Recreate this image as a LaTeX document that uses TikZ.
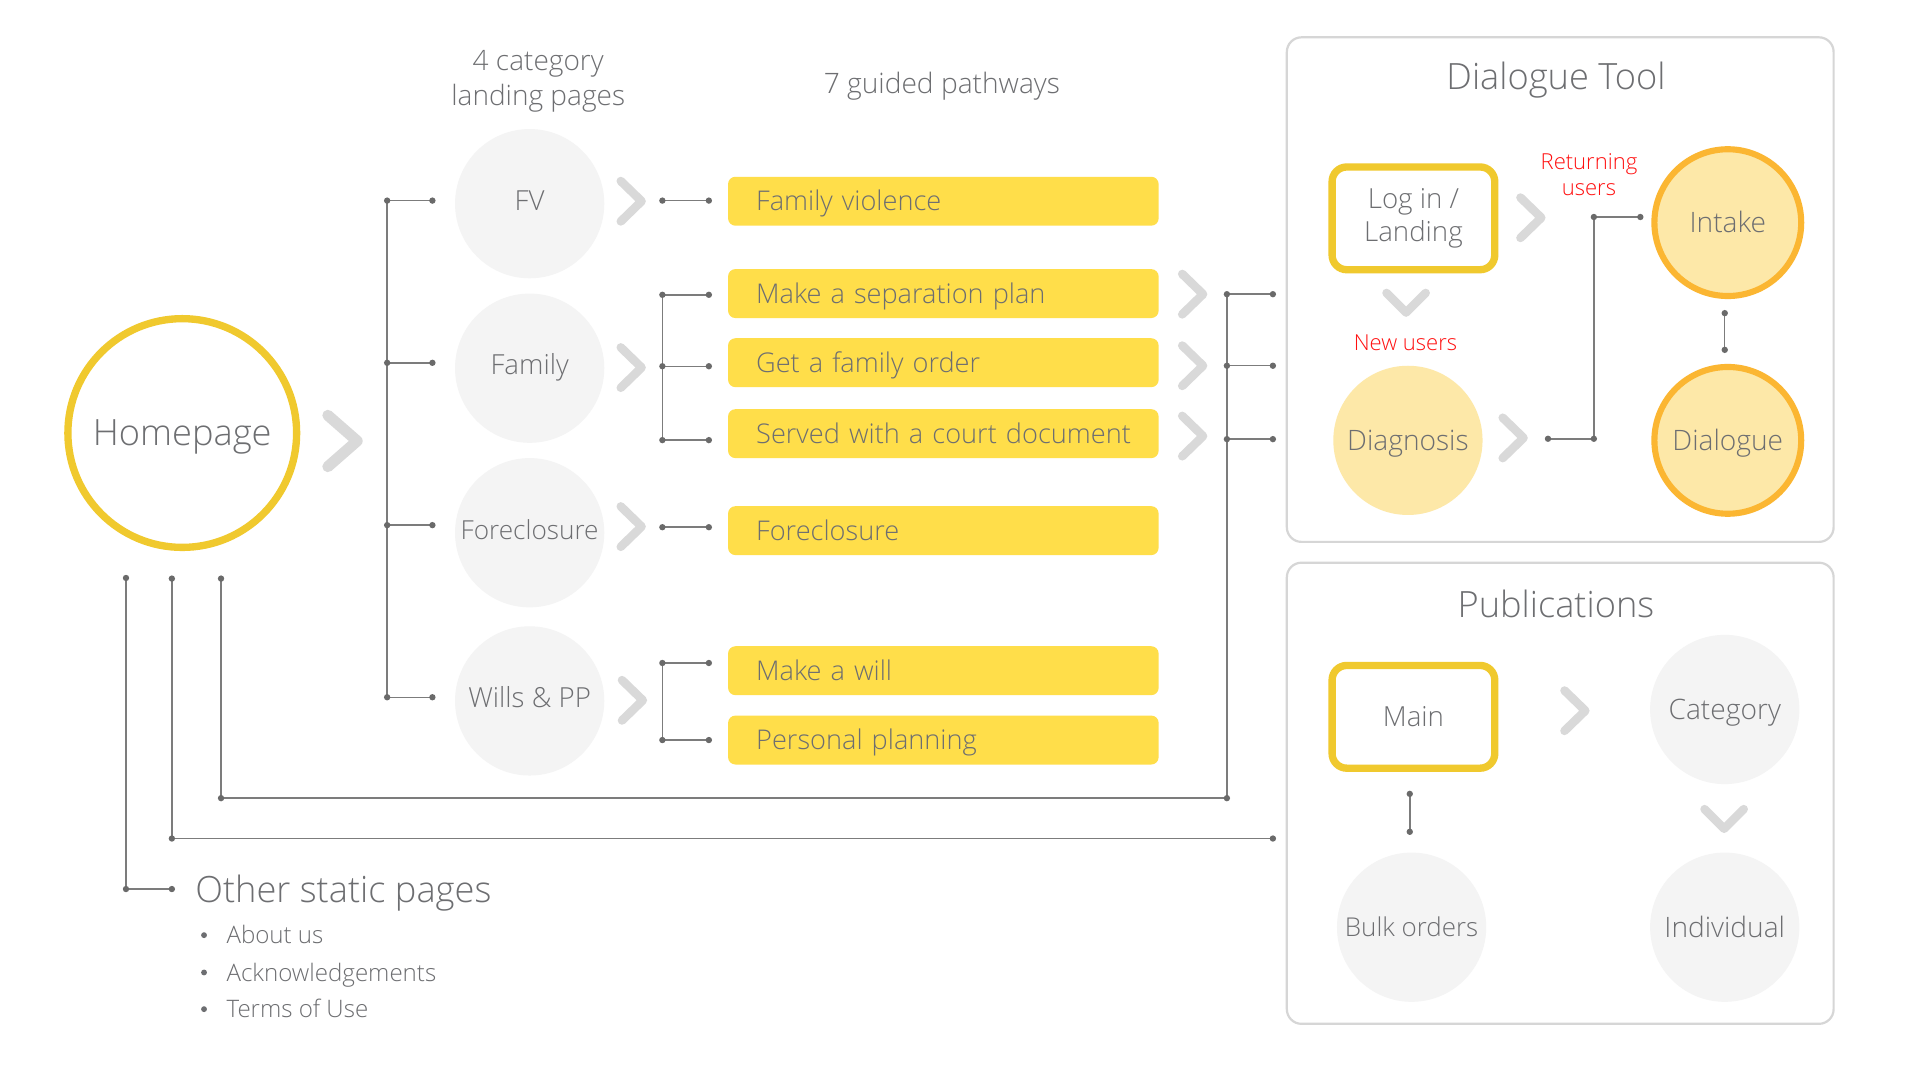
\documentclass[tikz,border=0pt]{standalone}
\usepackage{fontspec}
\setmainfont{Open Sans Light}
\usetikzlibrary{positioning}
\definecolor{txt}{HTML}{6D6E71}
\definecolor{linec}{HTML}{7C7C7C}
\definecolor{dotc}{HTML}{6A6A6A}
\definecolor{chevc}{HTML}{D9D9D9}
\definecolor{ylwline}{HTML}{F0C92E}
\definecolor{ylwfill}{HTML}{FFDE4A}
\definecolor{grayfill}{HTML}{F4F4F4}
\definecolor{lightylw}{HTML}{FDE8A8}
\definecolor{orangeline}{HTML}{FBB632}
\definecolor{panelline}{HTML}{D6D6D6}
\definecolor{redtxt}{HTML}{FF1010}
\begin{document}
\begin{tikzpicture}[x=1pt,y=-1pt,
  f18/.style={font=\fontsize{18}{22}\selectfont, text height=17.3pt, text depth=4.5pt},
  f19/.style={font=\fontsize{19.7}{23}\selectfont, text height=18.9pt, text depth=4.9pt},
  f21/.style={font=\fontsize{21.2}{25}\selectfont, text height=20.4pt, text depth=5.3pt},
  f22/.style={font=\fontsize{22.2}{27}\selectfont, text height=21.3pt, text depth=5.55pt},
  f23/.style={font=\fontsize{23}{27}\selectfont, text height=22.1pt, text depth=5.75pt},
  f29/.style={font=\fontsize{29.6}{35}\selectfont, text height=28.4pt, text depth=7.4pt},
  conn/.style={draw=linec, line width=1.2pt},
  chevline/.style={draw=chevc, line width=7pt, line cap=round, line join=round},
  chevR/.pic={\draw[chevline] (-8.5,-16.5) -- (8.5,0) -- (-8.5,16.5);},
  chevBig/.pic={\draw[chevline, line width=9pt] (-12,-21) -- (12,0) -- (-12,21);},
  chevD/.pic={\draw[chevline] (-16,-8) -- (0,8) -- (16,-8);},
  lbl/.style={text=txt, inner sep=0pt},
  hdr/.style={text=txt, f29, inner sep=0pt},
  sub/.style={text=txt, font=\fontsize{22.9}{28}\selectfont, inner sep=0pt, align=center},
  redlbl/.style={text=redtxt, font=\fontsize{18}{21}\selectfont, inner sep=0pt, align=center},
  catcircle/.style={circle, fill=grayfill, minimum size=122pt, inner sep=0pt, text=txt,
     font=\fontsize{22.6}{27}\selectfont, text height=21.7pt, text depth=10.6pt},
  pubcircle/.style={circle, fill=grayfill, minimum size=122pt, inner sep=0pt, text=txt, f23},
  pathbox/.style={rectangle, rounded corners=6pt, fill=ylwfill, minimum height=40pt, text width=306pt, inner xsep=23pt, inner ysep=0pt, align=left, anchor=west, text=txt, f22},
  ylwbox/.style={rectangle, rounded corners=12pt, draw=ylwline, line width=6pt, fill=white, minimum width=133pt, minimum height=84pt, inner sep=0pt, align=center, text=txt, font=\fontsize{22.6}{27}\selectfont},
  dtcircle/.style={circle, fill=lightylw, draw=orangeline, line width=5pt, minimum size=120pt, inner sep=0pt, text=txt, f23},
  panel/.style={draw=panelline, line width=1.8pt, rounded corners=12pt},
]
\useasboundingbox[fill=white] (0,0) rectangle (1568,881);

% headers
\node[sub] (h1) at (440,66.5) {4 category\\landing pages};
\node[sub, f23] (h2) at (770,68) {7 guided pathways};

% homepage
\node[circle, draw=ylwline, line width=6pt, minimum size=187pt, inner sep=0pt, text=txt, f29] (home) at (149,354) {Homepage};
\pic at (280,360.5) {chevBig};

% category circles
\node[catcircle] (fv) at (433,166.5) {FV};
\node[catcircle] (fam) at (433,301) {Family};
\node[catcircle, font=\fontsize{21.4}{26}\selectfont] (fcl) at (433,435.5) {Foreclosure};
\node[catcircle] (wil) at (433,573) {Wills \& PP};
\pic at (516,164.5) {chevR};
\pic at (516,300.5) {chevR};
\pic at (516,430.5) {chevR};
\pic at (517,572.5) {chevR};

% pathway boxes
\node[pathbox] (p1) at (595,164.5) {Family violence};
\node[pathbox] (p2) at (595,240) {Make a separation plan};
\node[pathbox] (p3) at (595,296.5) {Get a family order};
\node[pathbox] (p4) at (595,354.5) {\mbox{Served with a court document}};
\node[pathbox] (p5) at (595,433.8) {Foreclosure};
\node[pathbox] (p6) at (595,548.3) {Make a will};
\node[pathbox] (p7) at (595,605) {Personal planning};
\pic at (975,240.5) {chevR};
\pic at (975,299) {chevR};
\pic at (975,356.5) {chevR};

% tree coordinates
\coordinate (lt1) at (316.5,164);  \coordinate (le1) at (353.5,164);
\coordinate (lt2) at (316.5,296.6);\coordinate (le2) at (353.5,296.6);
\coordinate (lt3) at (316.5,429.3);\coordinate (le3) at (353.5,429.3);
\coordinate (lt4) at (316.5,570);  \coordinate (le4) at (353.5,570);
\draw[conn] (lt1) -- (lt4);
\foreach \i in {1,...,4} {\draw[conn] (lt\i) -- (le\i);}

\coordinate (a1) at (541.5,164);   \coordinate (b1) at (579.5,164);
\coordinate (a2) at (541.5,241);   \coordinate (b2) at (579.5,241);
\coordinate (a3) at (541.5,299.4); \coordinate (b3) at (579.5,299.4);
\coordinate (a4) at (541.5,359.8); \coordinate (b4) at (579.5,359.8);
\coordinate (a5) at (541.5,431);   \coordinate (b5) at (579.5,431);
\coordinate (a6) at (541.5,542);   \coordinate (b6) at (579.5,542);
\coordinate (a7) at (541.5,605);   \coordinate (b7) at (579.5,605);
\draw[conn] (a2) -- (a4);
\draw[conn] (a6) -- (a7);
\foreach \i in {1,...,7} {\draw[conn] (a\i) -- (b\i);}

\coordinate (r2) at (1003,240.5);  \coordinate (s2) at (1040.6,240.5);
\coordinate (r3) at (1003,299);    \coordinate (s3) at (1040.6,299);
\coordinate (r4) at (1003,359);    \coordinate (s4) at (1040.6,359);
\coordinate (rb) at (1003,652.5);
\draw[conn] (r2) -- (rb);
\foreach \i in {2,3,4} {\draw[conn] (r\i) -- (s\i);}

\coordinate (u1) at (103,472.5);  \coordinate (u1c) at (103,726.8); \coordinate (u1e) at (140.5,726.8);
\coordinate (u2) at (140.5,473);  \coordinate (u2c) at (140.5,685.5); \coordinate (u2e) at (1040.6,685.5);
\coordinate (u3) at (180.7,473);  \coordinate (u3c) at (180.7,652.5);
\draw[conn] (u1) -- (u1c) -- (u1e);
\draw[conn] (u2) -- (u2c) -- (u2e);
\draw[conn] (u3) -- (u3c) -- (rb);

\foreach \p in {lt1,le1,lt2,le2,lt3,le3,lt4,le4,a1,b1,a2,b2,a3,b3,a4,b4,a5,b5,a6,b6,a7,b7,r2,s2,r3,s3,r4,s4,rb,u1,u1c,u1e,u2,u2c,u2e,u3,u3c}
  {\fill[dotc] (\p) circle (2.6);}

% other static pages
\node[hdr, anchor=west] (osp) at (159.5,727) {Other static pages};
\node[lbl, f19, anchor=west] (o1) at (185,764.5) {About us};
\node[lbl, f19, anchor=west] (o2) at (185,795) {Acknowledgements};
\node[lbl, f19, anchor=west] (o3) at (185,825) {Terms of Use};
\foreach \yy in {764.5,795,825} {\fill[txt] (166.8,\yy) circle (2.4);}

% Dialogue tool panel
\draw[panel] (1052,30.5) rectangle (1499,443);
\node[hdr] (dtt) at (1272,62.5) {Dialogue Tool};
\node[ylwbox] (login) at (1155.5,178.5) {Log in /\\Landing};
\pic at (1251.5,178) {chevR};
\node[redlbl] (ret) at (1299,142.5) {Returning\\users};
\pic at (1149.5,247.5) {chevD};
\node[lbl, text=redtxt, f18] (newu) at (1149,280) {New users};
\node[circle, fill=lightylw, minimum size=122pt, inner sep=0pt, text=txt, f23] (diag) at (1151,360) {Diagnosis};
\pic at (1237,358) {chevR};
\node[dtcircle] (intake) at (1412.5,182) {Intake};
\node[dtcircle] (dlg) at (1412.5,360) {Dialogue};
\coordinate (d1) at (1265.5,358.7); \coordinate (d2) at (1303,358.7);
\coordinate (d3) at (1303,177.4);   \coordinate (d4) at (1341,177.4);
\draw[conn] (d1) -- (d2) -- (d3) -- (d4);
\coordinate (i1) at (1410,256); \coordinate (i2) at (1410,286);
\draw[conn] (i1) -- (i2);
\foreach \p in {d1,d2,d3,d4,i1,i2} {\fill[dotc] (\p) circle (2.6);}

% Publications panel
\draw[panel] (1052,460) rectangle (1499,837);
\node[hdr] (pubt) at (1272,494.5) {Publications};
\node[ylwbox, text height=21.7pt, text depth=5.6pt] (main) at (1155.5,586) {Main};
\pic at (1287.5,581) {chevR};
\node[pubcircle] (cat) at (1410,580) {Category};
\pic at (1409.5,669.5) {chevD};
\node[pubcircle] (indiv) at (1410,758) {Individual};
\node[pubcircle, f21] (bulk) at (1154,758) {Bulk orders};
\coordinate (m1) at (1152.5,649); \coordinate (m2) at (1152.5,680);
\draw[conn] (m1) -- (m2);
\foreach \p in {m1,m2} {\fill[dotc] (\p) circle (2.6);}
\end{tikzpicture}
\end{document}
